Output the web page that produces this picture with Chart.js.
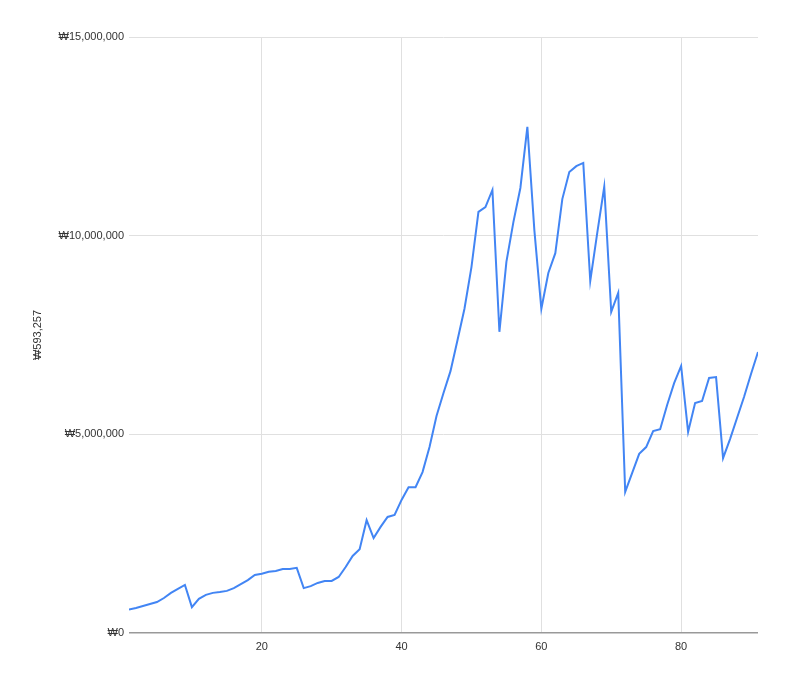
<!DOCTYPE html>
<html lang="ko">
<head>
  <meta charset="UTF-8">
  <title>₩593,257</title>
  <script src="https://cdn.jsdelivr.net/npm/chart.js"></script>
  <style>
    html, body {
      margin: 0;
      padding: 0;
      background: #fff;
    }
    #wrap {
      width: 790px;
      height: 678px;
      position: relative;
    }
  </style>
</head>
<body>
  <div id="wrap"><canvas id="chart"></canvas></div>

  <script>
    // 데이터
    const seriesName = '₩593,257';
    const days = [
      1, 2, 3, 4, 5, 6, 7, 8, 9, 10,
      11, 12, 13, 14, 15, 16, 17, 18, 19, 20,
      21, 22, 23, 24, 25, 26, 27, 28, 29, 30,
      31, 32, 33, 34, 35, 36, 37, 38, 39, 40,
      41, 42, 43, 44, 45, 46, 47, 48, 49, 50,
      51, 52, 53, 54, 55, 56, 57, 58, 59, 60,
      61, 62, 63, 64, 65, 66, 67, 68, 69, 70,
      71, 72, 73, 74, 75, 76, 77, 78, 79, 80,
      81, 82, 83, 84, 85, 86, 87, 88, 89, 90,
      91
    ];
    const values = [
      593257, 630000, 680000, 730000, 780000, 880000, 1010000, 1110000, 1210000, 650000,
      860000, 960000, 1010000, 1030000, 1060000, 1130000, 1230000, 1330000, 1460000, 1490000,
      1540000, 1560000, 1610000, 1610000, 1640000, 1130000, 1180000, 1260000, 1310000, 1310000,
      1410000, 1660000, 1940000, 2110000, 2840000, 2390000, 2670000, 2920000, 2970000, 3350000,
      3670000, 3670000, 4050000, 4680000, 5460000, 6040000, 6590000, 7370000, 8160000, 9210000,
      10600000, 10720000, 11150000, 7580000, 9340000, 10340000, 11200000, 12740000, 10140000, 8160000,
      9060000, 9560000, 10920000, 11600000, 11750000, 11830000, 8860000, 10070000, 11230000, 8080000,
      8560000, 3550000, 4030000, 4510000, 4680000, 5080000, 5130000, 5740000, 6290000, 6720000,
      5060000, 5790000, 5840000, 6420000, 6440000, 4400000, 4880000, 5410000, 5940000, 6520000,
      7070000
    ];
    const xTicks = [20, 40, 60, 80];
    const yTicks = [0, 5000000, 10000000, 15000000];

    const points = days.map((d, i) => ({ x: d, y: values[i] }));
    const font = { family: 'Arial, "Liberation Sans", sans-serif', size: 11 };

    new Chart(document.getElementById('chart'), {
      type: 'line',
      data: {
        datasets: [{
          label: seriesName,
          data: points,
          borderColor: '#4285f4',
          borderWidth: 2,
          pointRadius: 0,
          tension: 0,
          fill: false
        }]
      },
      options: {
        responsive: true,
        maintainAspectRatio: false,
        animation: false,
        layout: { padding: { top: 37, right: 32, left: 0, bottom: 0 } },
        plugins: {
          legend: { display: false },
          tooltip: { enabled: false }
        },
        scales: {
          x: {
            type: 'linear',
            min: 1,
            max: 91,
            afterBuildTicks: (scale) => {
              scale.ticks = xTicks.map(v => ({ value: v }));
            },
            afterFit: (scale) => { scale.height = 45; },
            grid: { color: '#e0e0e0', drawTicks: false },
            border: { display: false },
            ticks: { font, color: '#333', padding: 7, maxRotation: 0 }
          },
          y: {
            min: 0,
            max: 15000000,
            afterBuildTicks: (scale) => {
              scale.ticks = yTicks.map(v => ({ value: v }));
            },
            afterFit: (scale) => { scale.width = 129; },
            grid: {
              color: (ctx) => ctx.tick && ctx.tick.value === 0 ? '#999' : '#e0e0e0',
              lineWidth: (ctx) => ctx.tick && ctx.tick.value === 0 ? 1.5 : 1,
              drawTicks: false
            },
            border: { display: false },
            ticks: {
              font,
              color: '#333',
              padding: 5,
              callback: (v) => '₩' + Number(v).toLocaleString('en-US')
            },
            title: {
              display: true,
              text: seriesName,
              font,
              color: '#333',
              padding: { top: 31, bottom: 0 }
            }
          }
        }
      }
    });
  </script>
</body>
</html>
